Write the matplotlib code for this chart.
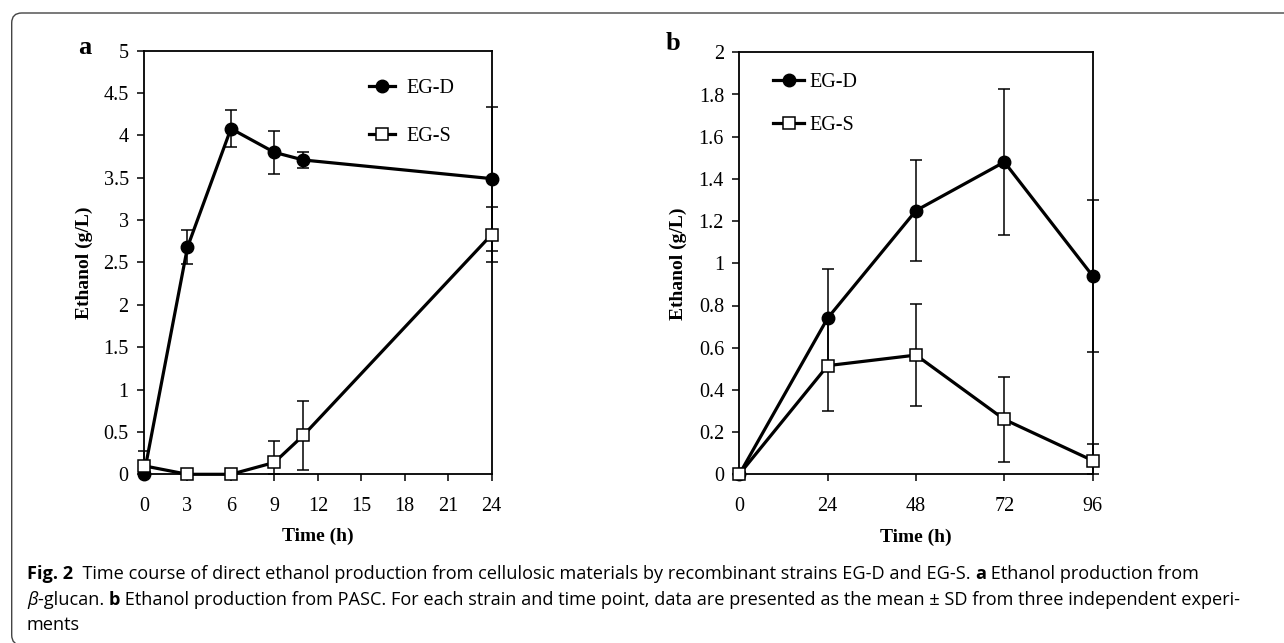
import matplotlib
matplotlib.use("Agg")
import matplotlib.pyplot as plt
from matplotlib.patches import FancyBboxPatch

# Panel a: beta-glucan
time_a = [0, 3, 6, 9, 11, 24]
egd_a = [0.00, 2.68, 4.08, 3.80, 3.71, 3.49]
egd_a_sd = [0.00, 0.20, 0.22, 0.25, 0.09, 0.85]
egs_a = [0.10, 0.00, 0.00, 0.14, 0.46, 2.83]
egs_a_sd = [0.17, 0.00, 0.00, 0.25, 0.41, 0.33]

# Panel b: PASC
time_b = [0, 24, 48, 72, 96]
egd_b = [0.00, 0.74, 1.25, 1.48, 0.94]
egd_b_sd = [0.00, 0.235, 0.24, 0.345, 0.36]
egs_b = [0.00, 0.515, 0.565, 0.26, 0.065]
egs_b_sd = [0.00, 0.215, 0.24, 0.20, 0.078]

xticks_a = [0, 3, 6, 9, 12, 15, 18, 21, 24]
yticks_a = [0, 0.5, 1, 1.5, 2, 2.5, 3, 3.5, 4, 4.5, 5]
xticks_b = [0, 24, 48, 72, 96]
yticks_b = [0, 0.2, 0.4, 0.6, 0.8, 1, 1.2, 1.4, 1.6, 1.8, 2]

SERIF = "Liberation Serif"
W, H = 1284, 643
TS = 14.5

fig = plt.figure(figsize=(12.84, 6.43), dpi=100)


def fmt(v):
    return f"{v:g}"


def err(vals, sd):
    # lower bar stops at the x axis, like in the original
    return [[min(s, v) for v, s in zip(vals, sd)], sd]


def draw_panel(ax, t, d, dsd, s, ssd, xt, yt):
    # error bars first, lines and markers on top
    ax.errorbar(t, d, yerr=err(d, dsd), fmt="none", ecolor="black", elinewidth=1.1,
                capsize=4, capthick=1.1, zorder=2, clip_on=False)
    ax.errorbar(t, s, yerr=err(s, ssd), fmt="none", ecolor="black", elinewidth=1.1,
                capsize=4, capthick=1.1, zorder=2, clip_on=False)
    ax.plot(t, d, color="black", lw=2.3, marker="o", ms=9, mfc="black",
            mec="black", label="EG-D", zorder=3, clip_on=False)
    ax.plot(t, s, color="black", lw=2.3, marker="s", ms=8.5, mfc="white",
            mec="black", mew=1.1, label="EG-S", zorder=4, clip_on=False)
    ax.set_xlim(xt[0], xt[-1])
    ax.set_ylim(yt[0], yt[-1])
    ax.set_xticks(xt)
    ax.set_yticks(yt)
    ax.set_xticklabels([fmt(v) for v in xt], fontsize=TS, family=SERIF)
    ax.set_yticklabels([fmt(v) for v in yt], fontsize=TS, family=SERIF)
    ax.tick_params(axis="x", direction="out", length=5, width=1.1, pad=11)
    ax.tick_params(axis="y", direction="out", length=5, width=1.1, pad=6)
    for sp in ax.spines.values():
        sp.set_linewidth(1.3)
    ax.set_xlabel("Time (h)", fontsize=14, fontweight="bold", family=SERIF)
    ax.set_ylabel("Ethanol (g/L)", fontsize=14, fontweight="bold", family=SERIF)


ax1 = fig.add_axes([144 / W, 1 - 474.3 / H, (491.7 - 144) / W, (474.3 - 50.7) / H])
draw_panel(ax1, time_a, egd_a, egd_a_sd, egs_a, egs_a_sd, xticks_a, yticks_a)
ax1.yaxis.set_label_coords(-0.148, 0.5)
ax1.xaxis.set_label_coords(0.5, -0.125)
ax1.legend(loc="upper left", bbox_to_anchor=(369 / W, 1 - 79 / H),
           bbox_transform=fig.transFigure, frameon=False, borderpad=0,
           borderaxespad=0, handlelength=1.3, handletextpad=0.55,
           labelspacing=1.45, prop={"family": SERIF, "size": TS})

ax2 = fig.add_axes([739.3 / W, 1 - 474.3 / H, (1092.7 - 739.3) / W, (474.3 - 52.3) / H])
draw_panel(ax2, time_b, egd_b, egd_b_sd, egs_b, egs_b_sd, xticks_b, yticks_b)
ax2.yaxis.set_label_coords(-0.148, 0.5)
ax2.xaxis.set_label_coords(0.5, -0.13)
ax2.legend(loc="upper left", bbox_to_anchor=(773 / W, 1 - 73 / H),
           bbox_transform=fig.transFigure, frameon=False, borderpad=0,
           borderaxespad=0, handlelength=1.55, handletextpad=0.25,
           labelspacing=1.2, prop={"family": SERIF, "size": TS})

fig.text(85 / W, 1 - 47 / H, "a", fontsize=19, fontweight="bold", family=SERIF,
         ha="center", va="center")
fig.text(673 / W, 1 - 44 / H, "b", fontsize=19, fontweight="bold", family=SERIF,
         ha="center", va="center")

# rounded outer frame (cut by the right edge)
frame = FancyBboxPatch((0.117, -0.02), 14.0, 6.30 + 0.02,
                       boxstyle="round,pad=0,rounding_size=0.1",
                       transform=fig.dpi_scale_trans, fill=False,
                       edgecolor="#444444", linewidth=1.0)
fig.patches.append(frame)

# caption, built from pieces so the bold / italic parts sit inline
CAP = "Open Sans"
CS = 13.1


def chain(y, pieces):
    prev = None
    for txt, kw in pieces:
        if prev is None:
            prev = fig.text(27 / W, 1 - y / H, txt, fontsize=CS, family=CAP,
                            va="baseline", **kw)
        else:
            prev = plt.annotate(txt, xy=(1, 0), xycoords=prev, va="bottom",
                                ha="left", fontsize=CS, family=CAP, **kw)


chain(579, [("Fig. 2", {"fontweight": "bold"}),
            ("  Time course of direct ethanol production from cellulosic materials by recombinant strains EG-D and EG-S. ", {}),
            ("a", {"fontweight": "bold"}),
            (" Ethanol production from", {})])
chain(605, [("\u03b2", {"style": "italic"}),
            ("-glucan. ", {}),
            ("b", {"fontweight": "bold"}),
            (" Ethanol production from PASC. For each strain and time point, data are presented as the mean \u00b1 SD from three independent experi-", {})])
chain(630, [("ments", {})])

fig.savefig("out.png", dpi=100)
